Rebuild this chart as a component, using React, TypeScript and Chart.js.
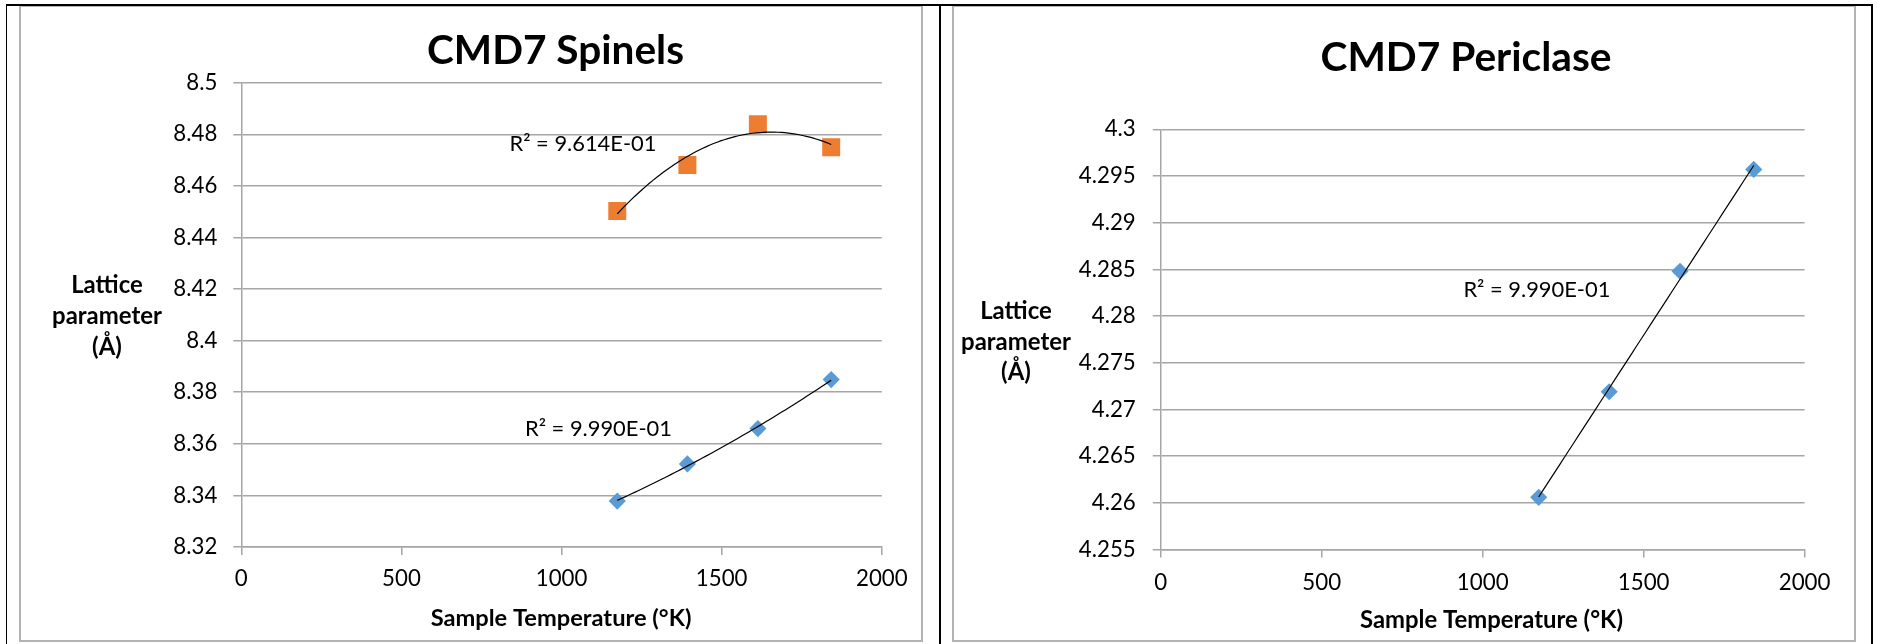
import React, { useEffect, useRef } from "react";
import { Chart, registerables } from "chart.js";

Chart.register(...registerables);

// ---------------- data ----------------
const temperatures = [1174, 1393, 1613, 1842];
const spinelUpper = [8.4503, 8.4681, 8.4839, 8.475];
const spinelLower = [8.3378, 8.3522, 8.3659, 8.3849];
const periclaseValues = [4.2606, 4.2719, 4.2848, 4.2957];

const xTicks = [0, 500, 1000, 1500, 2000];
const spinelYTicks = [8.32, 8.34, 8.36, 8.38, 8.4, 8.42, 8.44, 8.46, 8.48, 8.5];
const periclaseYTicks = [4.255, 4.26, 4.265, 4.27, 4.275, 4.28, 4.285, 4.29, 4.295, 4.3];

const spinelTitle = "CMD7 Spinels";
const periclaseTitle = "CMD7 Periclase";
const yTitleLines = ["Lattice", "parameter", "(Å)"];
const xTitle = "Sample Temperature (°K)";
const spinelUpperR2 = "R² = 9.614E-01";
const spinelLowerR2 = "R² = 9.990E-01";
const periclaseR2 = "R² = 9.990E-01";

// ---------------- styles ----------------
const FONT = "Lato, 'Open Sans', sans-serif";
const ORANGE = "#ED7D31";
const BLUE = "#5B9BD5";
const GRID = "#a6a6a6";

// font size that makes a text reach a given width (to mimic the original Calibri metrics)
let measureCtx: CanvasRenderingContext2D | null = null;
function fitSize(text: string, bold: boolean, width: number) {
  if (!measureCtx) measureCtx = document.createElement("canvas").getContext("2d");
  const ctx = measureCtx as CanvasRenderingContext2D;
  ctx.font = `${bold ? "bold " : ""}100px ${FONT}`;
  const w = ctx.measureText(text).width;
  return w > 0 ? (100 * width) / w : 22;
}

// least squares polynomial trendline (Excel-style trendline of the data)
function polyFit(xs: number[], ys: number[], deg: number) {
  const n = deg + 1;
  const xm = xs.reduce((a, b) => a + b, 0) / xs.length;
  const A: number[][] = Array.from({ length: n }, () => Array(n + 1).fill(0));
  xs.forEach((x, k) => {
    const u = (x - xm) / 1000;
    for (let i = 0; i < n; i++) {
      for (let j = 0; j < n; j++) A[i][j] += Math.pow(u, i + j);
      A[i][n] += ys[k] * Math.pow(u, i);
    }
  });
  for (let c = 0; c < n; c++) {
    let p = c;
    for (let r = c + 1; r < n; r++) if (Math.abs(A[r][c]) > Math.abs(A[p][c])) p = r;
    [A[c], A[p]] = [A[p], A[c]];
    for (let r = 0; r < n; r++) {
      if (r === c) continue;
      const f = A[r][c] / A[c][c];
      for (let k = c; k <= n; k++) A[r][k] -= f * A[c][k];
    }
  }
  const coef = A.map((row, i) => row[n] / row[i]);
  return (x: number) => {
    const u = (x - xm) / 1000;
    return coef.reduce((s, c, i) => s + c * Math.pow(u, i), 0);
  };
}

function trend(xs: number[], ys: number[], deg: number) {
  const f = polyFit(xs, ys, deg);
  const lo = Math.min(...xs);
  const hi = Math.max(...xs);
  const pts: { x: number; y: number }[] = [];
  const steps = 60;
  for (let i = 0; i <= steps; i++) {
    const x = lo + ((hi - lo) * i) / steps;
    pts.push({ x, y: f(x) });
  }
  return pts;
}

const pairs = (xs: number[], ys: number[]) => xs.map((x, i) => ({ x, y: ys[i] }));

type TextItem = { text: string; x: number; y: number; size: number; bold?: boolean; align?: CanvasTextAlign };

const textOverlay = {
  id: "textOverlay",
  afterDraw(chart: any, _args: any, opts: any) {
    const ctx = chart.ctx as CanvasRenderingContext2D;
    ctx.save();
    ctx.fillStyle = "#000";
    ctx.textBaseline = "middle";
    (opts.items || []).forEach((t: TextItem) => {
      ctx.font = `${t.bold ? "bold " : ""}${t.size}px ${FONT}`;
      ctx.textAlign = t.align || "center";
      ctx.fillText(t.text, t.x, t.y);
    });
    ctx.restore();
  },
};

const fmt = (v: number) => String(Number(v.toFixed(4)));

function makeConfig(p: {
  datasets: any[];
  yTicks: number[];
  tickSize: number;
  padding: { left: number; right: number; top: number; bottom: number };
  yPad: number;
  xPad: number;
  items: TextItem[];
}) {
  return {
    type: "scatter",
    data: { datasets: p.datasets },
    plugins: [textOverlay],
    options: {
      responsive: false,
      animation: false,
      events: [],
      layout: { padding: p.padding },
      plugins: {
        legend: { display: false },
        title: { display: false },
        tooltip: { enabled: false },
        textOverlay: { items: p.items },
      },
      scales: {
        x: {
          type: "linear",
          min: xTicks[0],
          max: xTicks[xTicks.length - 1],
          afterBuildTicks: (s: any) => {
            s.ticks = xTicks.map((v) => ({ value: v }));
          },
          afterFit: (s: any) => {
            s.height = 60;
          },
          ticks: {
            color: "#000",
            padding: p.xPad,
            font: { family: FONT, size: p.tickSize },
            callback: (v: number) => fmt(v),
            maxRotation: 0,
            autoSkip: false,
          },
          grid: { drawOnChartArea: false, drawTicks: true, tickLength: 8, color: GRID, lineWidth: 1.5 },
          border: { display: true, color: GRID, width: 1.5 },
        },
        y: {
          type: "linear",
          min: p.yTicks[0],
          max: p.yTicks[p.yTicks.length - 1],
          afterBuildTicks: (s: any) => {
            s.ticks = p.yTicks.map((v) => ({ value: v }));
          },
          afterFit: (s: any) => {
            s.width = 120;
          },
          ticks: { color: "#000", padding: p.yPad, font: { family: FONT, size: p.tickSize }, callback: (v: number) => fmt(v), autoSkip: false },
          grid: { drawOnChartArea: true, drawTicks: true, tickLength: 8, color: GRID, lineWidth: 1.5 },
          border: { display: true, color: GRID, width: 1.5 },
        },
      },
    },
  };
}

const trendStyle = {
  showLine: true,
  pointRadius: 0,
  borderColor: "#000",
  borderWidth: 1.2,
  fill: false,
  tension: 0,
  order: 0,
};

function yTitleItems(x: number, ys: number[]): TextItem[] {
  const size = fitSize(yTitleLines[1], true, 110);
  return yTitleLines.map((t, i) => ({ text: t, x, y: ys[i], size, bold: true }));
}

function spinelConfig() {
  const r2Size = fitSize(spinelUpperR2, false, 147);
  return makeConfig({
    datasets: [
      { ...trendStyle, data: trend(temperatures, spinelUpper, 2) },
      { ...trendStyle, data: trend(temperatures, spinelLower, 2) },
      {
        data: pairs(temperatures, spinelUpper),
        pointStyle: "rect",
        pointRadius: 12.7,
        backgroundColor: ORANGE,
        borderColor: ORANGE,
        borderWidth: 0,
        showLine: false,
        order: 1,
      },
      {
        data: pairs(temperatures, spinelLower),
        pointStyle: "rectRot",
        pointRadius: 8.6,
        backgroundColor: BLUE,
        borderColor: BLUE,
        borderWidth: 0,
        showLine: false,
        order: 1,
      },
    ],
    yTicks: spinelYTicks,
    tickSize: fitSize("8.48", false, 44),
    padding: { left: 100.3, right: 39.2, top: 75.7, bottom: 33 },
    yPad: 16,
    xPad: 10,
    items: [
      { text: spinelTitle, x: 534.5, y: 44, size: fitSize(spinelTitle, true, 257), bold: true },
      ...yTitleItems(86, [278, 309, 340]),
      { text: xTitle, x: 540, y: 611, size: fitSize(xTitle, true, 261), bold: true },
      { text: spinelUpperR2, x: 488.5, y: 136.7, size: r2Size, align: "left" },
      { text: spinelLowerR2, x: 504, y: 422, size: r2Size, align: "left" },
    ],
  });
}

function periclaseConfig() {
  return makeConfig({
    datasets: [
      { ...trendStyle, data: trend(temperatures, periclaseValues, 1) },
      {
        data: pairs(temperatures, periclaseValues),
        pointStyle: "rectRot",
        pointRadius: 8.6,
        backgroundColor: BLUE,
        borderColor: BLUE,
        borderWidth: 0,
        showLine: false,
        order: 1,
      },
    ],
    yTicks: periclaseYTicks,
    tickSize: fitSize("4.295", false, 57),
    padding: { left: 86.8, right: 49.4, top: 122.3, bottom: 30.4 },
    yPad: 17,
    xPad: 12,
    items: [
      { text: periclaseTitle, x: 512, y: 50.5, size: fitSize(periclaseTitle, true, 291), bold: true },
      ...yTitleItems(62, [304, 335, 365]),
      { text: xTitle, x: 537.5, y: 613, size: fitSize(xTitle, true, 263), bold: true },
      { text: periclaseR2, x: 509.4, y: 282.5, size: fitSize(periclaseR2, false, 147), align: "left" },
    ],
  });
}

function ChartCanvas({ make, left, top }: { make: () => any; left: number; top: number }) {
  const ref = useRef<HTMLCanvasElement>(null);
  useEffect(() => {
    const chart = new Chart(ref.current as HTMLCanvasElement, make());
    return () => chart.destroy();
  }, [make]);
  return (
    <div style={{ position: "absolute", left, top, width: 900, height: 633 }}>
      <canvas ref={ref} width={900} height={633} style={{ display: "block", width: 900, height: 633 }} />
    </div>
  );
}

const box = (left: number): React.CSSProperties => ({
  position: "absolute",
  left,
  top: 5,
  width: 904,
  height: 637,
  border: "2px solid #b3b3b3",
  boxSizing: "border-box",
  background: "#fff",
});

const black = (s: React.CSSProperties): React.CSSProperties => ({ position: "absolute", background: "#000", ...s });

export default function App() {
  return (
    <div style={{ position: "absolute", left: 0, top: 0, width: 1877, height: 644, background: "#fff", overflow: "hidden" }}>
      <div style={box(19)} />
      <div style={box(952)} />
      <ChartCanvas make={spinelConfig} left={21} top={7} />
      <ChartCanvas make={periclaseConfig} left={954} top={7} />
      <div style={black({ left: 6, top: 4, width: 1867, height: 2 })} />
      <div style={black({ left: 6, top: 4, width: 1, height: 640 })} />
      <div style={black({ left: 939, top: 4, width: 2, height: 640 })} />
      <div style={black({ left: 1871, top: 4, width: 2, height: 640 })} />
    </div>
  );
}
